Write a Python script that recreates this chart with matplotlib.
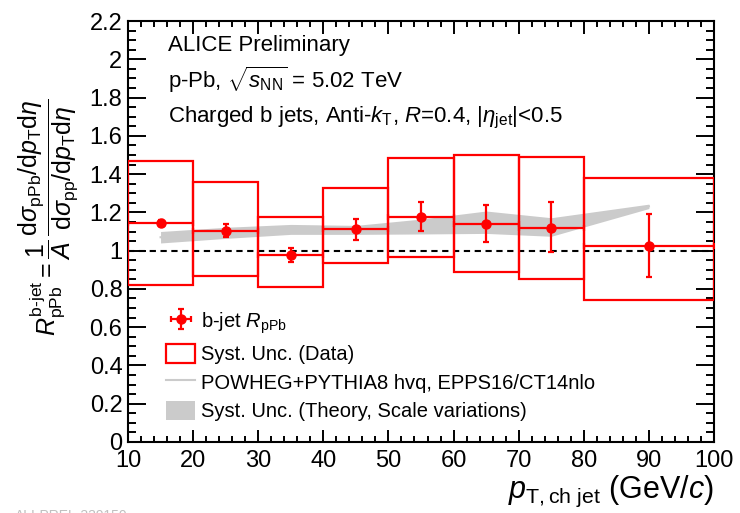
import matplotlib
matplotlib.use("Agg")
import matplotlib.pyplot as plt
from matplotlib.patches import Rectangle, Patch
from matplotlib.lines import Line2D
from matplotlib.ticker import MultipleLocator, FormatStrFormatter
import numpy as np

plt.rcParams['font.family'] = ['Liberation Sans', 'DejaVu Sans']
plt.rcParams['mathtext.fontset'] = 'custom'
plt.rcParams['mathtext.rm'] = 'Liberation Sans'
plt.rcParams['mathtext.it'] = 'Liberation Sans:italic'
plt.rcParams['mathtext.bf'] = 'Liberation Sans:bold'
plt.rcParams['mathtext.sf'] = 'Liberation Sans'

# ---- data ----
bin_lo = [10, 20, 30, 40, 50, 60, 70, 80]
bin_hi = [20, 30, 40, 50, 60, 70, 80, 100]
rppb = [1.146, 1.104, 0.977, 1.111, 1.177, 1.139, 1.120, 1.026]
stat_up = [0.015, 0.035, 0.038, 0.054, 0.077, 0.098, 0.134, 0.164]
stat_dn = [0.015, 0.035, 0.037, 0.056, 0.073, 0.096, 0.129, 0.162]
sys_hi = [1.470, 1.357, 1.176, 1.329, 1.485, 1.498, 1.489, 1.381]
sys_lo = [0.820, 0.867, 0.811, 0.937, 0.965, 0.888, 0.853, 0.742]

theo_x = [15, 25, 35, 45, 55, 65, 75, 90]
theo_lo = [1.040, 1.064, 1.085, 1.085, 1.087, 1.090, 1.075, 1.220]
theo_hi = [1.100, 1.122, 1.137, 1.132, 1.165, 1.207, 1.172, 1.243]

xticks = [10, 20, 30, 40, 50, 60, 70, 80, 90, 100]
yticks = [0, 0.2, 0.4, 0.6, 0.8, 1, 1.2, 1.4, 1.6, 1.8, 2, 2.2]

RED = '#ff0000'
GRAY = '#cbcbcb'

fig = plt.figure(figsize=(7.4, 5.13), dpi=100)
ax = fig.add_axes([128/740, 1-442/513, (714-128)/740, (442-21)/513])

# theory band + central line
ax.fill_between(theo_x, theo_lo, theo_hi, color=GRAY, lw=0, zorder=1)
theo_mid = [(a + b) / 2 for a, b in zip(theo_lo, theo_hi)]
ax.plot(theo_x, theo_mid, color=GRAY, lw=1.5, zorder=1)

# unity line
ax.axhline(1.0, color='black', lw=1.5, ls=(0, (3, 2.2)), zorder=2)

# systematic boxes
for lo, hi, slo, shi in zip(bin_lo, bin_hi, sys_lo, sys_hi):
    ax.add_patch(Rectangle((lo, slo), hi - lo, shi - slo, fill=False,
                           edgecolor=RED, lw=1.6, zorder=3))

centers = [(a + b) / 2 for a, b in zip(bin_lo, bin_hi)]
halfw = [(b - a) / 2 for a, b in zip(bin_lo, bin_hi)]
eb = ax.errorbar(centers, rppb, xerr=halfw, yerr=[stat_dn, stat_up], fmt='o',
                 color=RED, ms=6.5, lw=1.6, capsize=2.5, capthick=1.6, zorder=4)

ax.set_xlim(10, 100)
ax.set_ylim(0, 2.2)
ax.set_xticks(xticks)
ax.set_yticks(yticks)
ax.yaxis.set_major_formatter(FormatStrFormatter('%g'))
ax.xaxis.set_minor_locator(MultipleLocator(2))
ax.yaxis.set_minor_locator(MultipleLocator(0.05))
ax.tick_params(which='both', direction='in', top=True, right=True, width=1.4,
               labelsize=17)
ax.tick_params(axis='y', which='major', length=13, pad=4)
ax.tick_params(axis='y', which='minor', length=6)
ax.tick_params(axis='x', which='major', length=9, pad=6)
ax.tick_params(axis='x', which='minor', length=4.5)
for s in ax.spines.values():
    s.set_linewidth(1.5)

# texts
tkw = dict(fontsize=16, va='center', ha='left')
fig.text(168/740, 1-45/513, 'ALICE Preliminary', **tkw)
fig.text(168/740, 1-80/513, r'p-Pb, $\sqrt{s_{\mathrm{NN}}}$ = 5.02 TeV', **tkw)
fig.text(168/740, 1-118/513,
         r'Charged b jets, Anti-$k_{\mathrm{T}}$, $R$=0.4, |$\eta_{\mathrm{jet}}$|<0.5', **tkw)

# axis labels
fig.text(714/740, 1-498/513, r'$p_{\mathrm{T,ch\ jet}}$ (GeV/$c$)', ha='right',
         va='baseline', fontsize=22)
fig.text(49/740, 1-217/513,
         r'$R^{\mathrm{b\text{-}jet}}_{\mathrm{pPb}} = \dfrac{1}{A}\,'
         r'\dfrac{\mathrm{d}\sigma_{\mathrm{pPb}}/\mathrm{d}p_{\mathrm{T}}\mathrm{d}\eta}'
         r'{\mathrm{d}\sigma_{\mathrm{pp}}/\mathrm{d}p_{\mathrm{T}}\mathrm{d}\eta}$',
         rotation=90, ha='center', va='center', fontsize=18)

# legend
h_box = Patch(facecolor='white', edgecolor=RED, lw=1.6)
h_line = Line2D([], [], color=GRAY, lw=1.5)
h_band = Patch(facecolor=GRAY, edgecolor='none')
leg = ax.legend([eb, h_box, h_line, h_band],
                [r'b-jet $R_{\mathrm{pPb}}$', 'Syst. Unc. (Data)',
                 'POWHEG+PYTHIA8 hvq, EPPS16/CT14nlo',
                 'Syst. Unc. (Theory, Scale variations)'],
                loc='upper left', bbox_to_anchor=(166/740, 1-310/513),
                bbox_transform=fig.transFigure, frameon=False, fontsize=14.5,
                handlelength=1.45, handleheight=1.1, handletextpad=0.3,
                labelspacing=0.40, borderpad=0, borderaxespad=0)

fig.text(0.02, 4/513, 'ALI-PREL-339150', color='#c0c0c0', fontsize=10, va='top')

fig.savefig('out.png', dpi=100)
